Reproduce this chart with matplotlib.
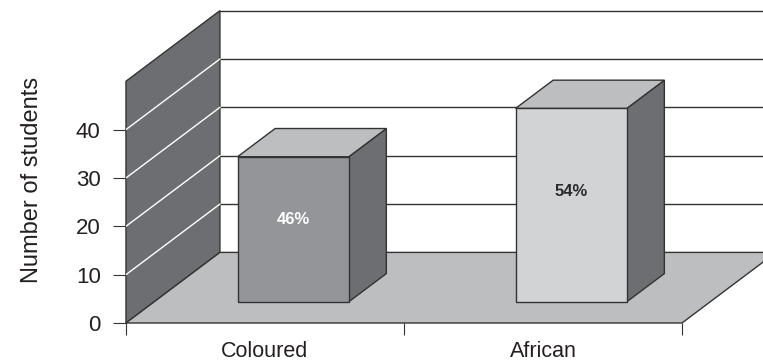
import matplotlib
matplotlib.use('Agg')
import matplotlib.pyplot as plt
from matplotlib.patches import Polygon

categories = ['Coloured', 'African']
students = [30, 40]
shares = ['46%', '54%']
y_ticks = [0, 10, 20, 30, 40]
grid_levels = [10, 20, 30, 40, 50]
wall_top = 50

plt.rcParams['font.family'] = ['Liberation Sans', 'DejaVu Sans']

# oblique "3D" projection: depth z in [0, 1] shifts right and up
DX, DY = 0.338, 14.6
BAR_W = 0.4
Z0, Z1 = 0.3, 0.7

edge = '#333333'
wall_c = '#6d6e71'
floor_c = '#bcbec0'
top_c = '#bcbec0'
front_c = ['#939598', '#d1d3d4']
text_c = ['white', '#2b2b2b']


def proj(x, y, z):
    return (x + DX * z, y + DY * z)


def face(pts, fc):
    return Polygon(pts, closed=True, fc=fc, ec=edge, lw=1.0, clip_on=False, joinstyle='miter')


fig = plt.figure(figsize=(7.63, 3.63), dpi=100)
ax = fig.add_axes([0.1651, 0.1102, 0.8349, 0.8898])
n = len(categories)
ax.set_xlim(0, 2.2914)
ax.set_ylim(0, 66.8)
for s in ax.spines.values():
    s.set_visible(False)

# back wall grid
for v in grid_levels:
    x0, y0 = proj(0, v, 1)
    ax.plot([x0, n + 1], [y0, y0], color=edge, lw=1.0, zorder=1)

# left wall and floor
ax.add_patch(face([proj(0, 0, 0), proj(0, wall_top, 0), proj(0, wall_top, 1), proj(0, 0, 1)], wall_c))
ax.add_patch(face([proj(0, 0, 0), proj(n, 0, 0), proj(n, 0, 1), proj(0, 0, 1)], floor_c))
for v in grid_levels[:-1]:
    a, b = proj(0, v, 0), proj(0, v, 1)
    ax.plot([a[0], b[0]], [a[1], b[1]], color='white', lw=1.0, zorder=3)

# bars
for i, (v, lab) in enumerate(zip(students, shares)):
    xl, xr = i + 0.5 - BAR_W / 2, i + 0.5 + BAR_W / 2
    front = [proj(xl, 0, Z0), proj(xr, 0, Z0), proj(xr, v, Z0), proj(xl, v, Z0)]
    top = [proj(xl, v, Z0), proj(xr, v, Z0), proj(xr, v, Z1), proj(xl, v, Z1)]
    side = [proj(xr, 0, Z0), proj(xr, 0, Z1), proj(xr, v, Z1), proj(xr, v, Z0)]
    for pts, c in [(side, wall_c), (top, top_c), (front, front_c[i])]:
        p = face(pts, c)
        p.set_zorder(4)
        ax.add_patch(p)
    cx, cy = proj(i + 0.5, v * 0.57, Z0)
    ax.text(cx, cy, lab, ha='center', va='center', color=text_c[i], fontsize=12,
            fontweight='bold', family=['Liberation Sans Narrow', 'Liberation Sans', 'DejaVu Sans'], zorder=5)

ax.set_yticks(y_ticks)
ax.tick_params(axis='y', length=9.6, width=0.8, pad=8.6, color=edge, labelsize=16, labelcolor='#231f20')
ax.set_xticks(range(n + 1))
ax.set_xticklabels([])
ax.set_xticks([i + 0.5 for i in range(n)], minor=True)
ax.set_xticklabels(categories, minor=True)
ax.tick_params(axis='x', which='major', length=8.6, width=0.8, color=edge)
ax.tick_params(axis='x', which='minor', length=0, pad=13, labelsize=15.5, labelcolor='#231f20')

fig.text(32 / 763, 1 - 180 / 363, 'Number of students', rotation=90, ha='center', va='center',
         fontsize=17, color='#231f20')

fig.savefig('out.png', dpi=100)
